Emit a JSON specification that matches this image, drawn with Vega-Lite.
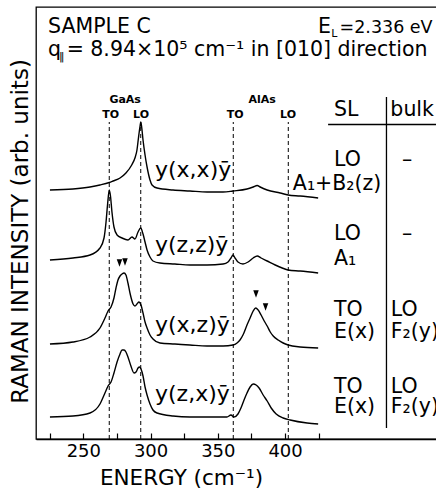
{
  "$schema": "https://vega.github.io/schema/vega-lite/v6.json",
  "width": 401,
  "height": 432,
  "autosize": {"type": "none"},
  "padding": {"left": 36, "top": 7, "right": 0, "bottom": 52},
  "background": "white",
  "config": {
    "view": {"stroke": "black", "strokeWidth": 1.3},
    "font": "DejaVu Sans",
    "text": {"font": "DejaVu Sans", "color": "black"}
  },
  "datasets": {
    "spectra": [
      {"s":1,"x":225.2,"y":249},{"s":1,"x":242.3,"y":250},{"s":1,"x":255.0,"y":252},{"s":1,"x":262.4,"y":254},{"s":1,"x":269.3,"y":256.5},{"s":1,"x":272.1,"y":258},{"s":1,"x":277.3,"y":261},{"s":1,"x":281.7,"y":266},{"s":1,"x":286.0,"y":274},{"s":1,"x":288.4,"y":281},{"s":1,"x":289.9,"y":289},{"s":1,"x":291.0,"y":301},{"s":1,"x":292.2,"y":313},{"s":1,"x":292.7,"y":317},{"s":1,"x":293.3,"y":313},{"s":1,"x":294.4,"y":299},{"s":1,"x":295.9,"y":284},{"s":1,"x":297.4,"y":272},{"s":1,"x":299.6,"y":259},{"s":1,"x":301.1,"y":254},{"s":1,"x":304.8,"y":251},{"s":1,"x":316.7,"y":249},{"s":1,"x":329.3,"y":248},{"s":1,"x":342.0,"y":247},{"s":1,"x":353.9,"y":247},{"s":1,"x":361.3,"y":248},{"s":1,"x":371.7,"y":250},{"s":1,"x":376.3,"y":252},{"s":1,"x":379.3,"y":253.5},{"s":1,"x":381.5,"y":252},{"s":1,"x":386.7,"y":249},{"s":1,"x":396.4,"y":246},{"s":1,"x":402.3,"y":244},{"s":1,"x":411.2,"y":243},{"s":1,"x":424.6,"y":241},
      {"s":2,"x":225.2,"y":179},{"s":2,"x":242.3,"y":181},{"s":2,"x":255.0,"y":184},{"s":2,"x":262.4,"y":191},{"s":2,"x":265.4,"y":201},{"s":2,"x":266.9,"y":217},{"s":2,"x":268.0,"y":234},{"s":2,"x":269.3,"y":249},{"s":2,"x":270.2,"y":243},{"s":2,"x":271.3,"y":227},{"s":2,"x":272.8,"y":212},{"s":2,"x":275.1,"y":204},{"s":2,"x":278.8,"y":201},{"s":2,"x":283.2,"y":199},{"s":2,"x":286.2,"y":202},{"s":2,"x":288.4,"y":200},{"s":2,"x":290.7,"y":207},{"s":2,"x":292.7,"y":211},{"s":2,"x":294.4,"y":205},{"s":2,"x":295.9,"y":197},{"s":2,"x":297.4,"y":189},{"s":2,"x":299.6,"y":182},{"s":2,"x":301.8,"y":178},{"s":2,"x":307.0,"y":176},{"s":2,"x":318.1,"y":175},{"s":2,"x":329.3,"y":174},{"s":2,"x":342.0,"y":174},{"s":2,"x":353.9,"y":175},{"s":2,"x":357.6,"y":177},{"s":2,"x":359.8,"y":181},{"s":2,"x":361.3,"y":184},{"s":2,"x":362.8,"y":181},{"s":2,"x":365.0,"y":177},{"s":2,"x":368.7,"y":175},{"s":2,"x":372.5,"y":177},{"s":2,"x":376.3,"y":181},{"s":2,"x":379.3,"y":183},{"s":2,"x":382.2,"y":181},{"s":2,"x":386.7,"y":178},{"s":2,"x":392.7,"y":174},{"s":2,"x":397.9,"y":171},{"s":2,"x":402.3,"y":169},{"s":2,"x":411.2,"y":168},{"s":2,"x":424.6,"y":166},
      {"s":3,"x":225.2,"y":95},{"s":3,"x":242.3,"y":97},{"s":3,"x":255.0,"y":102},{"s":3,"x":262.4,"y":111},{"s":3,"x":266.1,"y":121},{"s":3,"x":268.4,"y":128},{"s":3,"x":270.6,"y":132},{"s":3,"x":272.8,"y":141},{"s":3,"x":274.3,"y":151},{"s":3,"x":275.8,"y":159},{"s":3,"x":277.3,"y":163},{"s":3,"x":278.8,"y":165},{"s":3,"x":280.3,"y":166},{"s":3,"x":281.7,"y":164},{"s":3,"x":283.2,"y":156},{"s":3,"x":284.7,"y":146},{"s":3,"x":287.0,"y":135},{"s":3,"x":288.4,"y":133},{"s":3,"x":289.9,"y":135},{"s":3,"x":291.4,"y":137},{"s":3,"x":292.9,"y":134},{"s":3,"x":294.4,"y":126},{"s":3,"x":295.9,"y":117},{"s":3,"x":297.4,"y":111},{"s":3,"x":299.6,"y":104},{"s":3,"x":301.8,"y":100},{"s":3,"x":307.0,"y":96},{"s":3,"x":318.1,"y":95},{"s":3,"x":329.3,"y":94},{"s":3,"x":342.0,"y":93},{"s":3,"x":353.9,"y":93},{"s":3,"x":361.3,"y":94},{"s":3,"x":364.3,"y":96},{"s":3,"x":366.5,"y":99},{"s":3,"x":368.7,"y":104},{"s":3,"x":371.7,"y":114},{"s":3,"x":374.0,"y":121},{"s":3,"x":376.3,"y":128},{"s":3,"x":378.2,"y":131},{"s":3,"x":380.0,"y":129},{"s":3,"x":382.2,"y":124},{"s":3,"x":384.5,"y":118},{"s":3,"x":386.7,"y":113},{"s":3,"x":389.0,"y":107},{"s":3,"x":391.2,"y":103},{"s":3,"x":394.9,"y":99},{"s":3,"x":398.6,"y":96},{"s":3,"x":402.3,"y":94},{"s":3,"x":411.2,"y":92},{"s":3,"x":424.6,"y":91},
      {"s":4,"x":225.2,"y":22},{"s":4,"x":242.3,"y":23},{"s":4,"x":255.0,"y":26},{"s":4,"x":262.4,"y":35},{"s":4,"x":266.1,"y":46},{"s":4,"x":268.4,"y":53},{"s":4,"x":270.6,"y":57},{"s":4,"x":272.8,"y":66},{"s":4,"x":275.1,"y":77},{"s":4,"x":277.3,"y":85},{"s":4,"x":278.8,"y":89},{"s":4,"x":280.3,"y":89},{"s":4,"x":281.7,"y":87},{"s":4,"x":283.2,"y":82},{"s":4,"x":285.4,"y":73},{"s":4,"x":287.7,"y":66},{"s":4,"x":289.2,"y":67},{"s":4,"x":290.7,"y":71},{"s":4,"x":291.8,"y":72},{"s":4,"x":292.9,"y":70},{"s":4,"x":294.4,"y":63},{"s":4,"x":295.9,"y":52},{"s":4,"x":297.4,"y":44},{"s":4,"x":299.6,"y":35},{"s":4,"x":301.8,"y":29},{"s":4,"x":304.8,"y":26},{"s":4,"x":316.7,"y":23},{"s":4,"x":329.3,"y":22},{"s":4,"x":342.0,"y":22},{"s":4,"x":356.8,"y":22},{"s":4,"x":359.8,"y":24},{"s":4,"x":362.0,"y":22},{"s":4,"x":365.0,"y":25},{"s":4,"x":367.2,"y":31},{"s":4,"x":369.5,"y":39},{"s":4,"x":371.7,"y":46},{"s":4,"x":374.0,"y":52},{"s":4,"x":376.3,"y":55},{"s":4,"x":378.5,"y":54},{"s":4,"x":380.7,"y":51},{"s":4,"x":383.7,"y":44},{"s":4,"x":386.7,"y":38},{"s":4,"x":389.7,"y":31},{"s":4,"x":393.4,"y":25},{"s":4,"x":398.6,"y":21},{"s":4,"x":403.8,"y":19},{"s":4,"x":416.4,"y":16},{"s":4,"x":424.6,"y":15}
    ],
    "phonons": [
      {"x":269.3,"lo":0,"hi":317},{"x":292.7,"lo":0,"hi":317},{"x":361.5,"lo":0,"hi":317},{"x":402.4,"lo":0,"hi":317}
    ],
    "tablelines": [
      {"x":432.0,"x2":512.9,"y":314.5,"y2":314.5},
      {"x":475.4,"x2":475.4,"y":342,"y2":11}
    ],
    "arrows": [
      {"x":276.9,"y":176},{"x":281.0,"y":177},{"x":378.4,"y":145},{"x":385.5,"y":132}
    ],
    "bigtext": [
      {"t":"SAMPLE C","x":223.8,"y":406},
      {"t":"E","x":424.5,"y":406},
      {"t":"q","x":223.8,"y":383},
      {"t":"= 8.94×10⁵ cm⁻¹  in [010] direction","x":237.6,"y":383},
      {"t":"SL","x":436.4,"y":323},
      {"t":"bulk","x":478.3,"y":323},
      {"t":"LO","x":436.4,"y":273},
      {"t":"–","x":487.0,"y":273},
      {"t":"A₁+B₂(z)","x":405.8,"y":249},
      {"t":"LO","x":436.4,"y":199},
      {"t":"–","x":487.0,"y":199},
      {"t":"A₁","x":436.4,"y":174},
      {"t":"TO","x":436.4,"y":123},
      {"t":"LO","x":478.6,"y":123},
      {"t":"E(x)","x":436.4,"y":101},
      {"t":"F₂(y)","x":478.6,"y":101},
      {"t":"TO","x":436.4,"y":46},
      {"t":"LO","x":478.6,"y":46},
      {"t":"E(x)","x":436.4,"y":26},
      {"t":"F₂(y)","x":478.6,"y":26}
    ],
    "energytext": [
      {"t":"=2.336 eV","x":440.5,"y":406}
    ],
    "labeltext": [
      {"t":"y(x,x)ȳ","x":303.3,"y":262},
      {"t":"y(z,z)ȳ","x":303.3,"y":187},
      {"t":"y(x,z)ȳ","x":303.3,"y":107},
      {"t":"y(z,x)ȳ","x":303.3,"y":38}
    ],
    "subtext": [
      {"t":"L","x":434.3,"y":402},
      {"t":"‖","x":232.0,"y":379}
    ],
    "smalltext": [
      {"t":"GaAs","x":281.1,"y":336},
      {"t":"AlAs","x":382.9,"y":336},
      {"t":"TO","x":270.4,"y":321},
      {"t":"LO","x":292.9,"y":321},
      {"t":"TO","x":363.0,"y":321},
      {"t":"LO","x":402.2,"y":321}
    ]
  },
  "encoding": {
    "x": {
      "field": "x", "type": "quantitative",
      "scale": {"domain": [214.83, 512.97], "nice": false, "zero": false},
      "axis": {
        "values": [225, 250, 275, 300, 325, 350, 375, 400, 425],
        "labelExpr": "(datum.value % 50 == 0 && datum.value >= 250 && datum.value <= 400) ? datum.label : ''",
        "grid": false,
        "domainColor": "black", "domainWidth": 1.3,
        "tickColor": "black", "tickWidth": 1.2, "tickSize": -6,
        "labelColor": "black", "labelFontSize": 18, "labelFont": "DejaVu Sans", "labelPadding": 9,
        "labelFlush": false, "labelOverlap": false,
        "title": "ENERGY  (cm⁻¹)",
        "titleFont": "DejaVu Sans", "titleFontSize": 21.5, "titleFontWeight": "normal", "titleColor": "black",
        "titleX": 145, "titleY": 45, "titleBaseline": "alphabetic", "titleAlign": "center"
      }
    },
    "y": {
      "field": "y", "type": "quantitative",
      "scale": {"domain": [0, 432], "nice": false, "zero": false},
      "axis": {
        "domain": false, "ticks": false, "labels": false, "grid": false,
        "title": "RAMAN INTENSITY  (arb. units)",
        "titleFont": "DejaVu Sans", "titleFontSize": 23, "titleFontWeight": "normal", "titleColor": "black",
        "titleAngle": 270, "titleX": -16, "titleY": 224, "titleAlign": "center", "titleBaseline": "middle"
      }
    }
  },
  "layer": [
    {
      "data": {"name": "phonons"},
      "mark": {"type": "rule", "color": "black", "strokeWidth": 1, "strokeDash": [4, 3]},
      "encoding": {"y": {"field": "lo", "type": "quantitative"}, "y2": {"field": "hi"}}
    },
    {
      "data": {"name": "spectra"},
      "mark": {"type": "line", "color": "black", "strokeWidth": 1.4, "interpolate": "monotone"},
      "encoding": {"detail": {"field": "s", "type": "nominal"}}
    },
    {
      "data": {"name": "tablelines"},
      "mark": {"type": "rule", "color": "black", "strokeWidth": 1.3},
      "encoding": {"x2": {"field": "x2"}, "y2": {"field": "y2"}}
    },
    {
      "data": {"name": "arrows"},
      "mark": {"type": "point", "shape": "M-1,-1.4L1,-1.4L0,1.4Z", "filled": true, "color": "black", "opacity": 1, "size": 30}
    },
    {
      "data": {"name": "bigtext"},
      "mark": {"type": "text", "align": "left", "baseline": "alphabetic", "fontSize": 20.5, "font": "DejaVu Sans", "color": "black"},
      "encoding": {"text": {"field": "t"}}
    },
    {
      "data": {"name": "energytext"},
      "mark": {"type": "text", "align": "left", "baseline": "alphabetic", "fontSize": 17.5, "font": "DejaVu Sans", "color": "black"},
      "encoding": {"text": {"field": "t"}}
    },
    {
      "data": {"name": "labeltext"},
      "mark": {"type": "text", "align": "left", "baseline": "alphabetic", "fontSize": 22, "font": "DejaVu Sans", "color": "black"},
      "encoding": {"text": {"field": "t"}}
    },
    {
      "data": {"name": "subtext"},
      "mark": {"type": "text", "align": "left", "baseline": "alphabetic", "fontSize": 11, "font": "DejaVu Sans", "color": "black"},
      "encoding": {"text": {"field": "t"}}
    },
    {
      "data": {"name": "smalltext"},
      "mark": {"type": "text", "align": "center", "baseline": "alphabetic", "fontSize": 11, "fontWeight": "bold", "font": "DejaVu Sans", "color": "black"},
      "encoding": {"text": {"field": "t"}}
    }
  ]
}
